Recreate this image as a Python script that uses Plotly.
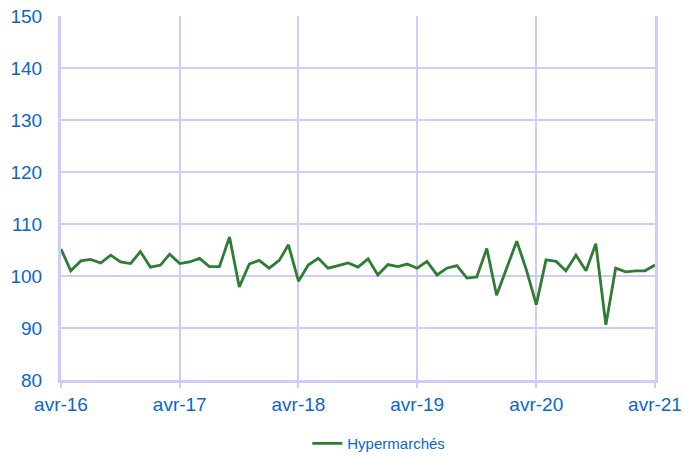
import plotly.graph_objects as go
import pandas as pd

months = pd.date_range("2016-04-01", "2021-04-01", freq="MS").strftime("%Y-%m-%d").tolist()
hypermarches = [
    105.2, 101.0, 102.9, 103.2, 102.5, 104.0, 102.7, 102.4, 104.7, 101.7, 102.1, 104.2,
    102.4, 102.7, 103.4, 101.8, 101.8, 107.5, 97.9, 102.3, 103.0, 101.5, 103.0, 106.0,
    99.0, 102.1, 103.4, 101.5, 102.0, 102.5, 101.7, 103.3, 100.2, 102.2, 101.8, 102.3,
    101.5, 102.8, 100.2, 101.5, 102.0, 99.6, 99.8, 105.3, 96.3, 101.7, 106.7, 101.3,
    94.5, 103.1, 102.8, 101.0, 104.0, 101.0, 106.2, 90.6, 101.5, 100.8, 101.0, 101.0,
    102.1,
]
tick_dates = ["2016-04-01", "2017-04-01", "2018-04-01", "2019-04-01", "2020-04-01", "2021-04-01"]
tick_labels = ["avr-16", "avr-17", "avr-18", "avr-19", "avr-20", "avr-21"]
series_name = "Hypermarchés"

grid = "#ccccff"
blue = "#0b66cc"
font_family = "Liberation Sans, Arial, sans-serif"

fig = go.Figure()
fig.add_trace(go.Scatter(
    x=months, y=hypermarches, mode="lines", name=series_name,
    line=dict(color="#2e7d32", width=2.8),
))

fig.update_layout(
    width=684, height=456,
    margin=dict(l=61, r=29, t=16, b=76, autoexpand=False),
    paper_bgcolor="white", plot_bgcolor="white",
    font=dict(family=font_family, color=blue, size=19),
    showlegend=True,
    legend=dict(orientation="h", x=0.535, xanchor="center", y=-0.175, yanchor="middle",
                font=dict(size=15, color=blue, family=font_family)),
    xaxis=dict(
        type="date", range=["2016-04-01", "2021-04-01"],
        tickvals=tick_dates, ticktext=tick_labels,
        showgrid=True, gridcolor=grid, gridwidth=1.5,
        showline=True, linecolor=grid, linewidth=3,
        ticks="outside", ticklen=5, tickcolor=grid, tickwidth=2,
        ticklabelstandoff=0,
        tickfont=dict(size=19, color=blue),
        zeroline=False, automargin=False,
    ),
    yaxis=dict(
        range=[80, 150], tickvals=[80, 90, 100, 110, 120, 130, 140, 150],
        showgrid=True, gridcolor=grid, gridwidth=1.5,
        showline=True, linecolor=grid, linewidth=3, mirror=True,
        ticks="", ticklabelstandoff=12,
        tickfont=dict(size=19, color=blue),
        zeroline=False, automargin=False,
    ),
)

fig.write_html("out.html", config={"displayModeBar": False},
               post_script="document.body.style.margin='0';")
